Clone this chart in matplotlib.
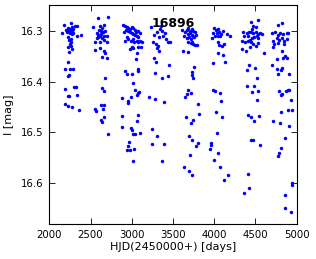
import numpy as np
import matplotlib.pyplot as plt

# Light curve of star 16896, I band
# (HJD - 2450000, I magnitude), one season per block
hjd_s1 = [2182, 2259, 2202, 2230, 2251, 2271, 2291, 2311, 2331, 2210, 2238, 2263, 2279, 2158,
          2331, 2388, 2230, 2263, 2251, 2230, 2263, 2238, 2271, 2222, 2190, 2251, 2291, 2238,
          2230, 2190, 2303, 2319, 2222, 2238, 2331, 2190, 2230, 2279, 2360,
          2245, 2255, 2275, 2220, 2285, 2240, 2260]
mag_s1 = [16.288, 16.285, 16.298, 16.295, 16.300, 16.293, 16.297, 16.291, 16.290, 16.303, 16.303,
          16.302, 16.307, 16.305, 16.310, 16.309, 16.313, 16.317, 16.326, 16.333, 16.331, 16.342,
          16.336, 16.362, 16.376, 16.376, 16.375, 16.388, 16.389, 16.415, 16.411, 16.411, 16.428,
          16.429, 16.426, 16.444, 16.448, 16.450, 16.456,
          16.296, 16.305, 16.300, 16.299, 16.305, 16.318, 16.322]

hjd_s2 = [2594, 2707, 2534, 2614, 2667, 2574, 2594, 2626, 2655, 2675, 2695, 2586, 2635, 2667,
          2554, 2614, 2695, 2554, 2614, 2667, 2675, 2643, 2695, 2675, 2643, 2667, 2626, 2659,
          2554, 2562, 2655, 2626, 2643, 2667, 2707,
          2600, 2630, 2580, 2610, 2640, 2660]
mag_s2 = [16.275, 16.273, 16.293, 16.291, 16.289, 16.305, 16.309, 16.307, 16.303, 16.300, 16.311,
          16.313, 16.315, 16.318, 16.323, 16.322, 16.322, 16.338, 16.335, 16.340, 16.344, 16.351,
          16.353, 16.393, 16.413, 16.419, 16.446, 16.446, 16.454, 16.458, 16.454, 16.476, 16.479,
          16.469, 16.503,
          16.298, 16.300, 16.315, 16.310, 16.295, 16.310]

hjd_s3 = [2897, 2917, 2937, 2958, 2925, 2909, 2950, 2978, 2998, 3019, 3039, 2978, 2998, 3019,
          3039, 3059, 3079, 3100, 3120, 3059, 3019, 2990, 2958, 2937, 2917, 3031, 3079, 3100,
          3047, 3071, 2998, 2978, 3019, 3079, 3111, 3067, 3047, 2917, 2937, 2998, 3079, 3071,
          3019, 3039, 3071, 3087, 3059, 2958, 2885, 2990, 2950, 2885, 3071, 3059, 2885, 2990,
          3006, 3019, 3039, 3100, 2966, 2958, 2937, 2978, 3031, 3019]
mag_s3 = [16.289, 16.291, 16.293, 16.295, 16.298, 16.302, 16.300, 16.297, 16.293, 16.295, 16.298,
          16.303, 16.305, 16.307, 16.309, 16.310, 16.313, 16.320, 16.323, 16.320, 16.317, 16.320,
          16.317, 16.313, 16.320, 16.323, 16.323, 16.305, 16.302, 16.300, 16.333, 16.336, 16.335,
          16.333, 16.333, 16.343, 16.355, 16.380, 16.386, 16.386, 16.375, 16.380, 16.403, 16.417,
          16.423, 16.421, 16.426, 16.439, 16.433, 16.431, 16.442, 16.468, 16.466, 16.478, 16.490,
          16.492, 16.496, 16.503, 16.503, 16.501, 16.519, 16.527, 16.534, 16.534, 16.533, 16.557]

hjd_s4 = [3233, 3273, 3301, 3330, 3354, 3362, 3402, 3410, 3435, 3463, 3261, 3289, 3313, 3301,
          3330, 3273, 3289, 3451, 3281, 3362, 3435, 3208, 3281, 3394, 3249, 3301, 3241, 3394,
          3370, 3340, 3380]
mag_s4 = [16.293, 16.309, 16.303, 16.313, 16.290, 16.300, 16.305, 16.317, 16.322, 16.322, 16.322,
          16.327, 16.331, 16.335, 16.340, 16.353, 16.362, 16.368, 16.383, 16.393, 16.389, 16.431,
          16.435, 16.441, 16.494, 16.507, 16.522, 16.523, 16.557, 16.296, 16.310]

hjd_s5 = [3613, 3645, 3665, 3686, 3706, 3726, 3746, 3767, 3678, 3706, 3726, 3746, 3637, 3665,
          3694, 3718, 3758, 3775, 3686, 3718, 3746, 3767, 3787, 3734, 3625, 3678, 3758, 3734,
          3726, 3746, 3686, 3665, 3645, 3718, 3799, 3653, 3815, 3746, 3718, 3694, 3726, 3807,
          3775, 3706, 3637, 3694, 3734]
mag_s5 = [16.298, 16.302, 16.298, 16.295, 16.300, 16.297, 16.300, 16.303, 16.307, 16.305, 16.309,
          16.310, 16.310, 16.315, 16.313, 16.317, 16.313, 16.309, 16.323, 16.325, 16.327, 16.329,
          16.329, 16.322, 16.340, 16.342, 16.371, 16.382, 16.388, 16.393, 16.416, 16.424, 16.431,
          16.423, 16.444, 16.470, 16.464, 16.476, 16.482, 16.507, 16.514, 16.521, 16.527, 16.545,
          16.567, 16.575, 16.584]

hjd_s6 = [4001, 4017, 4041, 3989, 4029, 4058, 4082, 4110, 4151, 4191, 3977, 4009, 4049, 4070,
          4041, 4058, 4098, 4122, 4049, 4110, 3989, 4130, 3989, 4009, 4070, 4082, 4017, 4098,
          4029, 3961, 3961, 3944, 4049, 4001, 4070, 4163, 4114]
mag_s6 = [16.295, 16.298, 16.297, 16.305, 16.305, 16.302, 16.307, 16.300, 16.307, 16.311, 16.315,
          16.311, 16.310, 16.311, 16.323, 16.329, 16.331, 16.327, 16.343, 16.348, 16.363, 16.362,
          16.416, 16.419, 16.423, 16.439, 16.459, 16.470, 16.502, 16.521, 16.525, 16.532, 16.541,
          16.554, 16.568, 16.584, 16.594]

hjd_s7 = [4446, 4526, 4474, 4502, 4454, 4353, 4393, 4421, 4446, 4474, 4502, 4526, 4555, 4575,
          4341, 4373, 4405, 4434, 4462, 4486, 4514, 4534, 4365, 4413, 4446, 4474, 4502, 4535,
          4332, 4381, 4434, 4607, 4421, 4393, 4494, 4514, 4393, 4486, 4462, 4526, 4514, 4405,
          4446, 4486, 4543, 4446, 4474, 4551, 4413, 4421, 4365]
mag_s7 = [16.284, 16.280, 16.291, 16.293, 16.297, 16.302, 16.305, 16.303, 16.302, 16.305, 16.303,
          16.307, 16.305, 16.307, 16.320, 16.322, 16.320, 16.318, 16.315, 16.313, 16.310, 16.315,
          16.310, 16.311, 16.323, 16.327, 16.330, 16.325, 16.337, 16.340, 16.333, 16.343, 16.368,
          16.378, 16.373, 16.393, 16.408, 16.409, 16.421, 16.419, 16.436, 16.466, 16.470, 16.477,
          16.468, 16.515, 16.515, 16.525, 16.582, 16.609, 16.619]

hjd_s8 = [4769, 4826, 4696, 4737, 4769, 4797, 4838, 4878, 4898, 4717, 4757, 4785, 4817, 4850,
          4878, 4729, 4777, 4850, 4717, 4817, 4858, 4838, 4878, 4757, 4696, 4757, 4826, 4810,
          4777, 4906, 4785, 4826, 4810, 4866, 4890, 4906, 4931, 4810, 4898, 4947, 4717, 4797,
          4906, 4858, 4810, 4785, 4777, 4945, 4937, 4862, 4862, 4925]
mag_s8 = [16.289, 16.285, 16.305, 16.303, 16.309, 16.305, 16.307, 16.305, 16.305, 16.320, 16.315,
          16.318, 16.315, 16.320, 16.317, 16.327, 16.325, 16.327, 16.333, 16.340, 16.350, 16.353,
          16.353, 16.356, 16.368, 16.375, 16.373, 16.378, 16.386, 16.386, 16.419, 16.424, 16.426,
          16.419, 16.417, 16.416, 16.436, 16.459, 16.456, 16.456, 16.477, 16.482, 16.488, 16.510,
          16.530, 16.541, 16.547, 16.600, 16.603, 16.622, 16.649, 16.656]

hjd = np.concatenate([hjd_s1, hjd_s2, hjd_s3, hjd_s4, hjd_s5, hjd_s6, hjd_s7, hjd_s8])
imag = np.concatenate([mag_s1, mag_s2, mag_s3, mag_s4, mag_s5, mag_s6, mag_s7, mag_s8])

star_id = "16896"

fig = plt.figure(figsize=(3.16, 2.59), dpi=100)
ax = fig.add_axes([0.156, 0.135, 0.783, 0.845])

ax.plot(hjd, imag, 'o', color='#0000ff', markersize=2.5, markeredgewidth=0)

ax.set_xlim(2000, 5000)
ax.set_ylim(16.68, 16.25)  # magnitudes: brighter at top
ax.set_xticks(np.arange(2000, 5001, 500))
ax.set_yticks([16.3, 16.4, 16.5, 16.6])

# old-style ticks: inward on every side
ax.tick_params(direction='in', top=True, right=True, labelsize=7.3, length=4, width=0.6, pad=4)
for sp in ax.spines.values():
    sp.set_linewidth(0.8)

ax.set_xlabel("HJD(2450000+) [days]", fontsize=8, labelpad=2)
ax.set_ylabel("I [mag]", fontsize=8, labelpad=5)
ax.text(0.5, 0.915, star_id, transform=ax.transAxes, ha='center', va='center',
        fontsize=9, fontweight='bold')

fig.savefig("out.png", dpi=100)
